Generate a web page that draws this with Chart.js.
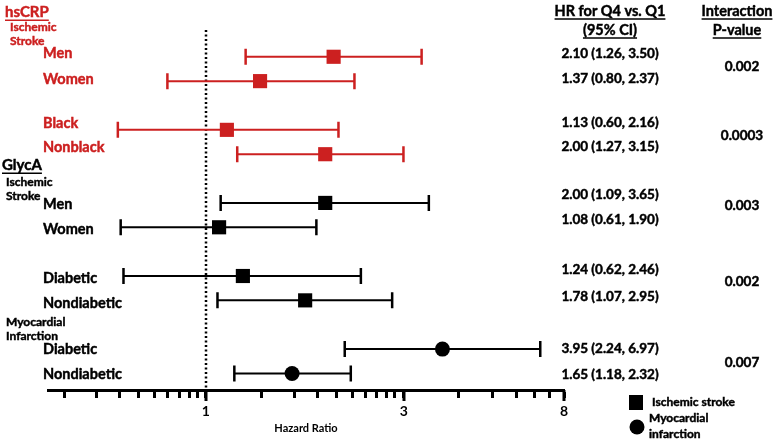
<!DOCTYPE html>
<html>
<head>
<meta charset="utf-8">
<script src="https://cdn.jsdelivr.net/npm/chart.js@4.4.0/dist/chart.umd.min.js"></script>
<style>
  html, body { margin: 0; padding: 0; background: #fff; }
</style>
</head>
<body>
<canvas id="forest" width="777" height="441"></canvas>
<script>
// rows of the forest plot
const rowLabels = ['Men', 'Women', 'Black', 'Nonblack', 'Men', 'Women', 'Diabetic', 'Nondiabetic', 'Diabetic', 'Nondiabetic'];
const rowPos = [0, 1, 3, 4, 6, 7, 9, 10, 12, 13];
const hr = [2.10, 1.37, 1.13, 2.00, 2.00, 1.08, 1.24, 1.78, 3.95, 1.65];
const ciLow = [1.26, 0.80, 0.60, 1.20, 1.09, 0.61, 0.62, 1.07, 2.24, 1.18];
const ciHigh = [3.50, 2.37, 2.16, 3.15, 3.65, 1.90, 2.46, 2.95, 6.97, 2.32];
const marker = ['rect', 'rect', 'rect', 'rect', 'rect', 'rect', 'rect', 'rect', 'circle', 'circle'];
// printed table column
const hrText = ['2.10 (1.26, 3.50)', '1.37 (0.80, 2.37)', '1.13 (0.60, 2.16)', '2.00 (1.27, 3.15)',
                '2.00 (1.09, 3.65)', '1.08 (0.61, 1.90)', '1.24 (0.62, 2.46)', '1.78 (1.07, 2.95)',
                '3.95 (2.24, 6.97)', '1.65 (1.18, 2.32)'];
const pValues = ['0.002', '0.0003', '0.003', '0.002', '0.007'];

// x axis ticks (hazard ratio, log scale)
const tickValues = [0.439, 0.531, 0.607, 0.678, 0.744, 0.802, 0.860, 0.911, 0.955, 1,
                    1.382, 1.676, 1.916, 2.139, 2.347, 2.531, 2.698, 2.859, 2.995, 3.156,
                    4.34, 5.29, 6.08, 6.75, 7.37, 8];
const tickLabels = ['', '', '', '', '', '', '', '', '', '1',
                    '', '', '', '', '', '', '', '', '', '3',
                    '', '', '', '', '', '8'];

const RED = '#cc2020';
const FONT = 'Lato, "Open Sans", sans-serif';
Chart.defaults.font.family = FONT;

function rowColor(i) { return i < 4 ? RED : '#000'; }

const whiskers = {
  id: 'whiskers',
  beforeDatasetsDraw(chart) {
    const ctx = chart.ctx, x = chart.scales.x, y = chart.scales.y;
    // reference line at HR = 1
    ctx.save();
    ctx.strokeStyle = '#000';
    ctx.lineWidth = 2.5;
    ctx.setLineDash([2, 2.5]);
    ctx.beginPath();
    const x1 = Math.round(x.getPixelForValue(1));
    ctx.moveTo(x1, 30);
    ctx.lineTo(x1, chart.chartArea.bottom);
    ctx.stroke();
    ctx.setLineDash([]);
    for (let i = 0; i < hr.length; i++) {
      const py = y.getPixelForValue(rowPos[i]);
      const pl = x.getPixelForValue(ciLow[i]);
      const ph = x.getPixelForValue(ciHigh[i]);
      ctx.strokeStyle = rowColor(i);
      ctx.lineWidth = 2;
      ctx.beginPath();
      ctx.moveTo(pl, py); ctx.lineTo(ph, py);
      ctx.stroke();
      ctx.lineWidth = 2.5;
      ctx.beginPath();
      ctx.moveTo(pl, py - 8); ctx.lineTo(pl, py + 8);
      ctx.moveTo(ph, py - 8); ctx.lineTo(ph, py + 8);
      ctx.stroke();
    }
    ctx.restore();
  }
};

function txt(ctx, s, x, y, size, color, align, underline) {
  ctx.font = 'bold ' + size + 'px ' + FONT;
  ctx.fillStyle = color;
  ctx.strokeStyle = color;
  ctx.lineWidth = 0.45;
  ctx.textAlign = align || 'left';
  ctx.textBaseline = 'middle';
  ctx.fillText(s, x, y);
  ctx.strokeText(s, x, y);
  if (underline) {
    const w = ctx.measureText(s).width;
    let x0 = x;
    if (align === 'center') x0 = x - w / 2;
    ctx.fillRect(x0, y + size * 0.5, w, 1.5);
  }
}

const annotations = {
  id: 'annotations',
  afterDraw(chart) {
    const ctx = chart.ctx, x = chart.scales.x;
    ctx.save();
    // longer major ticks
    ctx.strokeStyle = '#000';
    ctx.lineWidth = 3;
    tickValues.forEach((v, i) => {
      if (!tickLabels[i]) return;
      const px = Math.round(x.getPixelForValue(v));
      ctx.beginPath();
      ctx.moveTo(px, chart.chartArea.bottom);
      ctx.lineTo(px, chart.chartArea.bottom + 11);
      ctx.stroke();
    });

    // group headings
    txt(ctx, 'hsCRP', 5, 12, 15, RED, 'left', true);
    txt(ctx, 'Ischemic', 10, 27, 12, RED);
    txt(ctx, 'Stroke', 10, 41, 12, RED);
    txt(ctx, 'GlycA', 2, 165, 15, '#000', 'left', true);
    txt(ctx, 'Ischemic', 6, 182, 12, '#000');
    txt(ctx, 'Stroke', 6, 196, 12, '#000');
    txt(ctx, 'Myocardial', 6, 322, 12, '#000');
    txt(ctx, 'Infarction', 6, 336, 12, '#000');

    // row labels
    const labelY = [53, 79, 123, 147, 204, 229, 278, 303, 349, 374];
    rowLabels.forEach((s, i) => txt(ctx, s, 43, labelY[i], 14.5, rowColor(i)));

    // column headers
    txt(ctx, 'HR for Q4 vs. Q1', 610, 11, 14.5, '#000', 'center', true);
    txt(ctx, '(95% CI)', 610, 30, 14.5, '#000', 'center', true);
    txt(ctx, 'Interaction', 737, 11, 14.5, '#000', 'center', true);
    txt(ctx, 'P-value', 737, 30, 14.5, '#000', 'center', true);

    // HR (95% CI) text
    const hrY = [54, 79, 123, 147, 195, 220, 270, 297, 349, 375];
    hrText.forEach((s, i) => txt(ctx, s, 610, hrY[i], 13.5, '#000', 'center'));

    // interaction p-values
    const pY = [67, 136, 206, 282, 363];
    pValues.forEach((s, i) => txt(ctx, s, 742, pY[i], 13.5, '#000', 'center'));

    // legend
    ctx.fillStyle = '#000';
    ctx.fillRect(629, 395, 14, 15);
    ctx.beginPath();
    ctx.arc(637, 427, 7.5, 0, Math.PI * 2);
    ctx.fill();
    txt(ctx, 'Ischemic stroke', 652, 402, 12, '#000');
    txt(ctx, 'Myocardial', 649, 418, 12, '#000');
    txt(ctx, 'infarction', 649, 434, 12, '#000');
    ctx.restore();
  }
};

new Chart(document.getElementById('forest'), {
  type: 'scatter',
  data: {
    datasets: [{
      data: rowPos.map((r, i) => ({ x: hr[i], y: r })),
      pointStyle: marker,
      pointRadius: marker.map(m => m === 'rect' ? 10 : 7.5),
      pointHoverRadius: marker.map(m => m === 'rect' ? 10 : 7.5),
      pointBackgroundColor: hr.map((v, i) => rowColor(i)),
      pointBorderWidth: 0,
      clip: false
    }]
  },
  plugins: [whiskers, annotations],
  options: {
    responsive: false,
    animation: false,
    layout: { padding: { left: 48, right: 213, top: 0, bottom: 0 } },
    plugins: { legend: { display: false }, tooltip: { enabled: false } },
    scales: {
      x: {
        type: 'logarithmic',
        min: 0.4,
        max: 8,
        afterBuildTicks: (scale) => { scale.ticks = tickValues.map(v => ({ value: v })); },
        afterFit: (scale) => { scale.height = 51; },
        ticks: {
          autoSkip: false,
          maxRotation: 0,
          padding: 5,
          color: '#000',
          font: { size: 14, weight: 'bold' },
          callback: (v, i) => tickLabels[i]
        },
        grid: {
          drawOnChartArea: false,
          drawTicks: true,
          tickLength: 8,
          tickWidth: 3,
          tickColor: '#000'
        },
        border: { display: true, width: 3, color: '#000' },
        title: {
          display: true,
          text: 'Hazard Ratio',
          color: '#000',
          font: { size: 11, weight: 'bold' },
          padding: { top: 0, bottom: 6 }
        }
      },
      y: {
        type: 'linear',
        display: false,
        reverse: true,
        min: -1.92,
        max: 13.68
      }
    }
  }
});
</script>
</body>
</html>
